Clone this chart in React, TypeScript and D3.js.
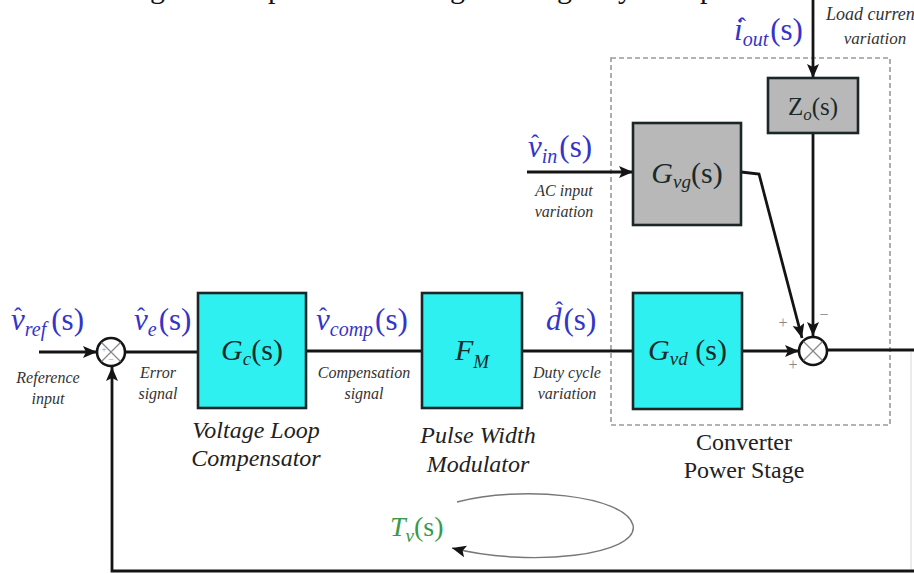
import React from "react";
import * as d3 from "d3";

const W = 914;
const H = 574;

const CYAN = "#2ff0f0";
const GRAY = "#b8b8b8";
const BLUE = "#3434c8";
const GREEN = "#3a9a4a";
const INK = "#141414";
const SERIF = "Liberation Serif, Times New Roman, Times, serif";

// Blocks of the diagram
const blockNames = ["Gc", "FM", "Gvd", "Gvg", "Zo"];
const blockBoxes: [number, number, number, number][] = [
  [198, 293, 108, 115],
  [422, 293, 100, 115],
  [633, 293, 109, 116],
  [633, 123, 108, 102],
  [768, 78, 90, 55],
];
const blockFills = [CYAN, CYAN, CYAN, GRAY, GRAY];

// Symbol parts: [base, subscript, tail, baseItalic]
const blockSymbols: [string, string, string, boolean][] = [
  ["G", "c", "(s)", true],
  ["F", "M", "", true],
  ["G", "vd", " (s)", true],
  ["G", "vg", "(s)", true],
  ["Z", "o", "(s)", false],
];

// Signal labels (blue, hatted)
const signalBase = ["v", "v", "v", "d", "v", "i"];
const signalSub = ["ref", "e", "comp", "", "in", "out"];
const signalPos: [number, number][] = [
  [11, 330],
  [134, 330],
  [316, 330],
  [546, 330],
  [528, 157],
  [734, 40],
];

// Italic small captions
const captionLines: string[][] = [
  ["Reference", "input"],
  ["Error", "signal"],
  ["Compensation", "signal"],
  ["Duty cycle", "variation"],
  ["AC input", "variation"],
];
const captionPos: [number, number][] = [
  [48, 383],
  [158, 378],
  [364, 378],
  [567, 378],
  [564, 196],
];

// Junctions
const junctions: [number, number][] = [
  [111, 352],
  [813, 351],
];
const R = 14;

// Wires: polyline points, arrow at end?
const wires: { pts: [number, number][]; arrow: boolean }[] = [
  { pts: [[39, 352], [97, 352]], arrow: true },
  { pts: [[125, 352], [198, 352]], arrow: false },
  { pts: [[306, 351], [422, 351]], arrow: false },
  { pts: [[522, 351], [633, 351]], arrow: false },
  { pts: [[742, 351], [799, 351]], arrow: true },
  { pts: [[827, 350], [914, 350]], arrow: false },
  { pts: [[914, 571], [112, 571], [112, 367]], arrow: true },
  { pts: [[527, 172], [633, 172]], arrow: true },
  { pts: [[741, 172], [759, 174], [802, 338]], arrow: true },
  { pts: [[813, 0], [813, 78]], arrow: true },
  { pts: [[813, 133], [813, 336]], arrow: true },
];

const topGlyphs = ["g", "p", "g", "g", "y", "p"];
const topGlyphX = [150, 268, 450, 557, 618, 700];

const line = d3.line<[number, number]>();

function BlockSymbol({ i }: { i: number }) {
  const [x, y, w, h] = blockBoxes[i];
  const [base, sub, tail, it] = blockSymbols[i];
  const cx = x + w / 2;
  const cy = y + h / 2 + 9;
  return (
    <text x={cx} y={cy} textAnchor="middle" style={{ fontFamily: SERIF }} fontSize={i === 4 ? 25 : 30} fill="#1a2a2a">
      <tspan fontStyle={it ? "italic" : "normal"}>{base}</tspan>
      <tspan fontStyle="italic" fontSize={i === 4 ? 17 : 19} dy={i === 1 ? 8 : 5}>{sub}</tspan>
      {tail ? <tspan dy={i === 1 ? -8 : -5}>{tail}</tspan> : null}
    </text>
  );
}

function Signal({ i }: { i: number }) {
  const [x, y] = signalPos[i];
  const base = signalBase[i];
  const sub = signalSub[i];
  return (
    <g>
      <text x={x} y={y} style={{ fontFamily: SERIF }} fontSize={31} fill={BLUE}>
        <tspan fontStyle="italic">{base}</tspan>
        {sub ? (
          <tspan fontStyle="italic" fontSize={20} dy={6}>{sub}</tspan>
        ) : null}
        <tspan dy={sub ? -6 : 0} dx={sub === "ref" ? 5 : 2}>(s)</tspan>
      </text>
      <text
        x={x + (base === "d" ? 9 : base === "i" ? 4 : 3)}
        y={y - (base === "d" ? 12 : 6)}
        style={{ fontFamily: SERIF }}
        fontSize={24}
        fill={BLUE}
      >
        ˆ
      </text>
    </g>
  );
}

export default function App() {
  return (
    <svg
      width={W}
      height={H}
      viewBox={`0 0 ${W} ${H}`}
      style={{ position: "absolute", left: 0, top: 0, background: "#fff", fontFamily: SERIF }}
    >
      <defs>
        <marker id="arr" markerUnits="userSpaceOnUse" markerWidth={16} markerHeight={14} refX={14} refY={6} orient="auto">
          <path d="M0,0 L14,6 L0,12 L3,6 Z" fill={INK} />
        </marker>
      </defs>
      <rect width={W} height={H} fill="#fff" />

      {/* partial caption line from above */}
      {topGlyphs.map((g, k) => (
        <text key={k} x={topGlyphX[k]} y={-2} style={{ fontFamily: SERIF }} fontSize={30} fill="#111">
          {g}
        </text>
      ))}

      {/* dashed converter box */}
      <rect x={611} y={58} width={279} height={367} fill="none" stroke="#9a9a9a" strokeWidth={1.6} strokeDasharray="5,3" />

      {/* faint right edge */}
      <line x1={911} y1={352} x2={911} y2={570} stroke="#d8d8d8" strokeWidth={1} />

      {/* wires */}
      {wires.map((w, k) => (
        <path
          key={k}
          d={line(w.pts) || ""}
          fill="none"
          stroke={INK}
          strokeWidth={2.8}
          markerEnd={w.arrow ? "url(#arr)" : undefined}
        />
      ))}

      {/* blocks */}
      {blockNames.map((n, i) => {
        const [x, y, w, h] = blockBoxes[i];
        return (
          <g key={n}>
            <rect x={x} y={y} width={w} height={h} fill={blockFills[i]} stroke="#1c2626" strokeWidth={2.6} />
            <BlockSymbol i={i} />
          </g>
        );
      })}

      {/* summing junctions */}
      {junctions.map(([cx, cy], k) => (
        <g key={k}>
          <circle cx={cx} cy={cy} r={R} fill="#fff" stroke={INK} strokeWidth={2.6} />
          <line x1={cx - 9.5} y1={cy - 9.5} x2={cx + 9.5} y2={cy + 9.5} stroke="#8a8a8a" strokeWidth={1.2} />
          <line x1={cx - 9.5} y1={cy + 9.5} x2={cx + 9.5} y2={cy - 9.5} stroke="#8a8a8a" strokeWidth={1.2} />
        </g>
      ))}
      <text x={104} y={352} fontSize={9} fill="#999" textAnchor="middle">+</text>
      <text x={111} y={363} fontSize={10} fill="#999" textAnchor="middle">−</text>
      <text x={783} y={328} fontSize={16} fill="#888" textAnchor="middle">+</text>
      <text x={793} y={370} fontSize={16} fill="#888" textAnchor="middle">+</text>
      <text x={824} y={320} fontSize={16} fill="#888" textAnchor="middle">−</text>

      {/* signal labels */}
      {signalBase.map((_, i) => (
        <Signal key={i} i={i} />
      ))}

      {/* small captions */}
      {captionLines.map((ls, k) => (
        <text key={k} style={{ fontFamily: SERIF }} fontStyle="italic" fontSize={16} fill="#333" textAnchor="middle">
          {ls.map((s, j) => (
            <tspan key={j} x={captionPos[k][0]} y={captionPos[k][1] + j * 21}>
              {s}
            </tspan>
          ))}
        </text>
      ))}
      <text style={{ fontFamily: SERIF }} fontStyle="italic" fontSize={18} fill="#333">
        <tspan x={826} y={20}>Load current</tspan>
      </text>
      <text style={{ fontFamily: SERIF }} fontStyle="italic" fontSize={17} fill="#333" textAnchor="middle">
        <tspan x={875} y={44}>variation</tspan>
      </text>

      {/* block descriptions */}
      <text style={{ fontFamily: SERIF }} fontStyle="italic" fontSize={24} fill="#222" textAnchor="middle">
        <tspan x={256} y={438}>Voltage Loop</tspan>
        <tspan x={256} y={466}>Compensator</tspan>
        <tspan x={478} y={443}>Pulse Width</tspan>
        <tspan x={478} y={472}>Modulator</tspan>
      </text>
      <text style={{ fontFamily: SERIF }} fontSize={24} fill="#222" textAnchor="middle">
        <tspan x={744} y={450}>Converter</tspan>
        <tspan x={744} y={478}>Power Stage</tspan>
      </text>

      {/* loop gain */}
      <text x={390} y={536} style={{ fontFamily: SERIF }} fontSize={28} fill={GREEN}>
        <tspan fontStyle="italic">T</tspan>
        <tspan fontStyle="italic" fontSize={19} dy={6}>v</tspan>
        <tspan dy={-6}>(s)</tspan>
      </text>
      <path
        d="M457,502 C520,485 625,495 633,525 C640,555 530,568 452,548"
        fill="none"
        stroke="#777"
        strokeWidth={1.4}
        markerEnd="url(#arr)"
      />
    </svg>
  );
}
